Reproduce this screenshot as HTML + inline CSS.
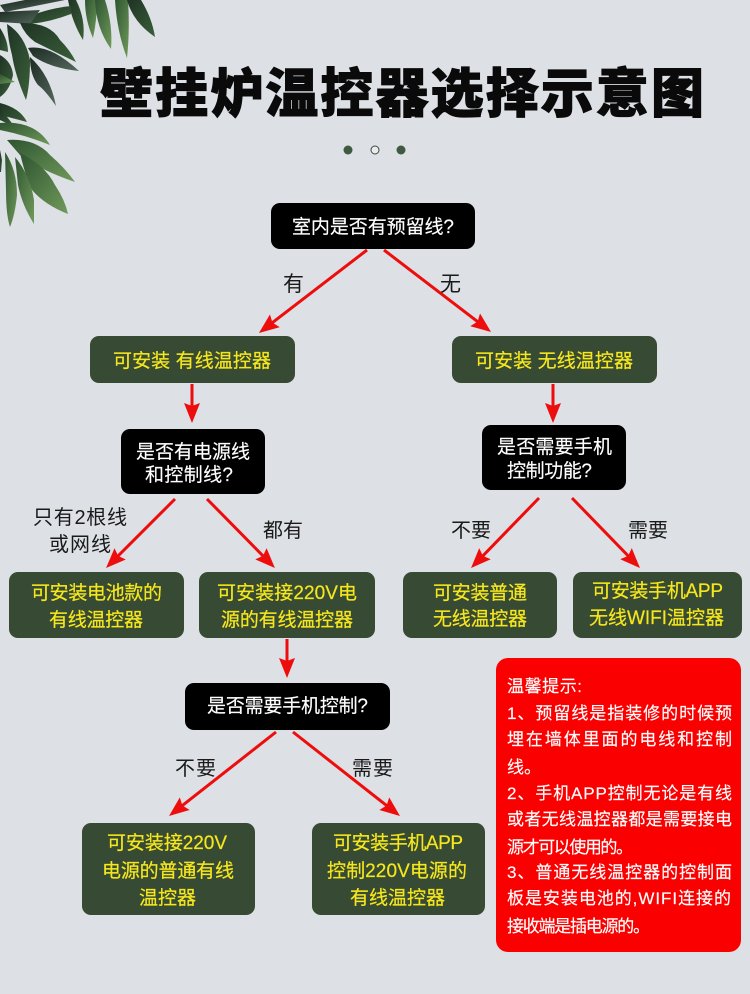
<!DOCTYPE html>
<html lang="zh"><head><meta charset="utf-8"><title>壁挂炉温控器选择示意图</title>
<style>
html,body{margin:0;padding:0;background:#dde0e5}
svg{display:block}
text{font-family:"Liberation Sans","Noto Sans CJK SC",sans-serif}
.w{fill:#fff;font-size:19px;stroke:#fff;stroke-width:.15}
.y{fill:#f6e71d;font-size:19px;stroke:#f6e71d;stroke-width:.2}
.k{fill:#1a1a1a;font-size:20px}
.r{fill:#fff;font-size:17px;stroke:#fff;stroke-width:.15}
.a{stroke:#ee0d0d;stroke-width:3;fill:none;marker-end:url(#h)}
.g{fill:#374a33}
</style></head><body>
<svg xmlns="http://www.w3.org/2000/svg" width="750" height="994" viewBox="0 0 750 994">
<defs>
<marker id="h" markerUnits="userSpaceOnUse" markerWidth="20" markerHeight="16" refX="12" refY="8" orient="auto" viewBox="0 0 20 16"><path d="M0 0L20 8L0 16L3 8z" fill="#ee0d0d"/></marker>
<linearGradient id="l1" x1="0" y1="0" x2="1" y2="1"><stop offset="0" stop-color="#1f3325"/><stop offset="1" stop-color="#3a5f38"/></linearGradient>
<linearGradient id="l2" x1="0" y1="0" x2="1" y2="1"><stop offset="0" stop-color="#2f5431"/><stop offset="1" stop-color="#6f9a5a"/></linearGradient>
<linearGradient id="l3" x1="0" y1="0" x2="1" y2="1"><stop offset="0" stop-color="#1c2b22"/><stop offset="1" stop-color="#56695e"/></linearGradient>
</defs>
<rect width="750" height="994" fill="#dde0e5"/>

<!-- leaves -->
<g>
<path fill="url(#l1)" d="M68 0L76 0Q86 20 83 40Q72 22 68 0z"/>
<path fill="url(#l2)" d="M85 0L97 0Q97 20 93 38Q85 20 85 0z"/>
<path fill="url(#l2)" d="M95 0L105 0Q113 25 111 49Q96 28 95 0z"/>
<path fill="url(#l2)" d="M115 0L128 0Q130 30 127 58Q117 32 115 0z"/>
<path fill="url(#l1)" d="M127 0L141 0Q152 18 155 37Q133 22 127 0z"/>
<path fill="url(#l3)" d="M0 5L25 0L65 0L5 12z"/>
<path fill="url(#l1)" d="M27 17Q50 8 71 6L71 14Q50 22 30 24z"/>
<path fill="url(#l3)" d="M0 12L40 10L30 24L0 22z"/>
<path fill="url(#l1)" d="M20 23Q50 22 60 40Q70 50 76 62Q55 52 35 42Q25 35 20 23z"/>
<path fill="url(#l3)" d="M28 48Q50 44 79 71Q50 68 33 56z"/>
<path fill="url(#l1)" d="M7 24Q25 35 30 60Q30 85 26 100Q15 75 12 55Q8 40 7 24z"/>
<path fill="url(#l3)" d="M30 57Q50 75 56 106Q45 90 38 85Q30 75 30 57z"/>
<path fill="url(#l1)" d="M0 55Q12 62 13 75Q10 90 0 97z"/>
<path fill="url(#l1)" d="M0 28Q8 40 8 52L0 50z"/>
<path fill="url(#l2)" d="M0 74L15 82L0 84z"/>
<path fill="url(#l1)" d="M0 103Q20 108 27 122Q12 118 0 115z"/>
<path fill="url(#l1)" d="M0 108L15 127L0 120z"/>
<path fill="url(#l2)" d="M0 123Q35 120 50 145Q25 135 0 130z"/>
<path fill="url(#l2)" d="M7 140Q35 138 50 155Q65 168 75 182Q40 170 20 155z"/>
<path fill="url(#l2)" d="M20 153Q45 165 55 185Q65 200 68 214Q45 205 32 190Q25 175 20 153z"/>
<path fill="url(#l2)" d="M15 157Q30 175 34 200L34 224Q22 205 18 185z"/>
<path fill="url(#l2)" d="M5 152Q17 170 17 195Q15 215 10 227Q6 215 6 190z"/>
<path fill="url(#l1)" d="M0 150L2 160L1 172L0 172z"/>
</g>

<!-- title -->
<text x="100" y="112" font-size="53" font-weight="900" fill="#0a0a0a" stroke="#0a0a0a" stroke-width="1" textLength="604" lengthAdjust="spacing">壁挂炉温控器选择示意图</text>
<circle cx="348" cy="150" r="4.5" fill="#3f5a40"/>
<circle cx="375" cy="150" r="4" fill="#e9ecef" stroke="#3c4a3c" stroke-width="1"/>
<circle cx="401" cy="150" r="4.5" fill="#3f5a40"/>

<!-- nodes -->
<rect x="271" y="203" width="204" height="46" rx="9" fill="#000"/>
<rect class="g" x="90" y="336" width="205" height="47" rx="9"/>
<rect class="g" x="452" y="336" width="205" height="47" rx="9"/>
<rect x="121" y="429" width="144" height="65" rx="9" fill="#000"/>
<rect x="482" y="425" width="144" height="65" rx="9" fill="#000"/>
<rect class="g" x="9" y="572" width="175" height="66" rx="9"/>
<rect class="g" x="199" y="572" width="176" height="66" rx="9"/>
<rect class="g" x="403" y="572" width="154" height="66" rx="9"/>
<rect class="g" x="573" y="572" width="169" height="66" rx="9"/>
<rect x="185" y="683" width="205" height="47" rx="9" fill="#000"/>
<rect class="g" x="82" y="823" width="173" height="92" rx="9"/>
<rect class="g" x="312" y="823" width="173" height="92" rx="9"/>
<rect x="496" y="658" width="245" height="294" rx="12" fill="#fb0000"/>

<!-- connectors -->
<path class="a" d="M367 250L265.3 328.1"/>
<path class="a" d="M384 250L484.7 327.1"/>
<path class="a" d="M192 384L192 415"/>
<path class="a" d="M553 384L553 415"/>
<path class="a" d="M175 499L111.7 562.3"/>
<path class="a" d="M207 499L269.3 562.3"/>
<path class="a" d="M539 498L476.6 562.3"/>
<path class="a" d="M572 498L634.4 562.3"/>
<path class="a" d="M287 639L287 670"/>
<path class="a" d="M276 732L175.3 811.1"/>
<path class="a" d="M293 732L393.7 811.1"/>

<!-- black node text -->
<text class="w" x="292" y="233" textLength="162">室内是否有预留线?</text>
<text class="w" x="136" y="458" textLength="114">是否有电源线</text>
<text class="w" x="145" y="481" textLength="88">和控制线?</text>
<text class="w" x="497" y="453" textLength="115">是否需要手机</text>
<text class="w" x="507" y="477" textLength="85">控制功能?</text>
<text class="w" x="207" y="712" textLength="161">是否需要手机控制?</text>

<!-- green node text -->
<text class="y" x="113" y="367" textLength="158">可安装 有线温控器</text>
<text class="y" x="475" y="367" textLength="158">可安装 无线温控器</text>
<text class="y" x="31" y="599" textLength="131">可安装电池款的</text>
<text class="y" x="49" y="626" textLength="94">有线温控器</text>
<text class="y" x="217" y="599" textLength="140">可安装接220V电</text>
<text class="y" x="221" y="626" textLength="132">源的有线温控器</text>
<text class="y" x="433" y="599" textLength="94">可安装普通</text>
<text class="y" x="433" y="625" textLength="94">无线温控器</text>
<text class="y" x="592" y="597" textLength="131">可安装手机APP</text>
<text class="y" x="589" y="624" textLength="135">无线WIFI温控器</text>
<text class="y" x="107" y="849" textLength="120">可安装接220V</text>
<text class="y" x="102" y="877" textLength="132">电源的普通有线</text>
<text class="y" x="139" y="904" textLength="57">温控器</text>
<text class="y" x="333" y="849" textLength="130">可安装手机APP</text>
<text class="y" x="327" y="877" textLength="140">控制220V电源的</text>
<text class="y" x="350" y="904" textLength="95">有线温控器</text>

<!-- edge labels -->
<text class="k" x="283" y="291" style="font-size:21px">有</text>
<text class="k" x="440" y="291" style="font-size:21px">无</text>
<text class="k" x="33" y="524" textLength="94">只有2根线</text>
<text class="k" x="49" y="551" textLength="62">或网线</text>
<text class="k" x="263" y="537">都有</text>
<text class="k" x="451" y="537">不要</text>
<text class="k" x="628" y="537">需要</text>
<text class="k" x="175" y="775" textLength="41">不要</text>
<text class="k" x="352" y="775" textLength="41">需要</text>

<!-- note -->
<text class="r" x="507" y="692" textLength="75">温馨提示:</text>
<text class="r" x="507" y="719" textLength="225">1、预留线是指装修的时候预</text>
<text class="r" x="507" y="745" textLength="225">埋在墙体里面的电线和控制</text>
<text class="r" x="507" y="773">线。</text>
<text class="r" x="507" y="799" textLength="225">2、手机APP控制无论是有线</text>
<text class="r" x="507" y="825" textLength="225">或者无线温控器都是需要接电</text>
<text class="r" x="507" y="853" textLength="126">源才可以使用的。</text>
<text class="r" x="507" y="878" textLength="225">3、普通无线温控器的控制面</text>
<text class="r" x="507" y="904" textLength="224">板是安装电池的,WIFI连接的</text>
<text class="r" x="507" y="932" textLength="143">接收端是插电源的。</text>
</svg>
</body></html>
